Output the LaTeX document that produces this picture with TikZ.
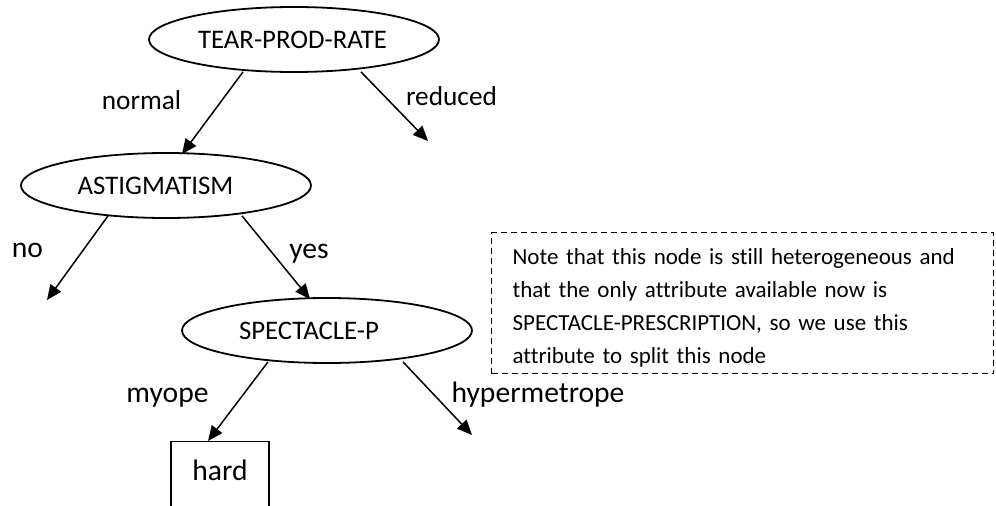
\documentclass[tikz,border=0pt]{standalone}
\usepackage{fontspec}
\setmainfont{Carlito}[RawFeature={-liga;-clig;-calt;-dlig}]
\usetikzlibrary{arrows.meta,shapes.geometric}

\tikzset{
  attr/.style={draw, ellipse, line width=1.8pt, minimum width=290pt,
    minimum height=65pt, inner sep=0pt},
  branch/.style={line width=1.5pt, -{Triangle[length=15pt,width=13pt]}},
  lbl/.style={anchor=base, inner sep=0pt, font=\fontsize{29.6}{34}\selectfont},
  smalllbl/.style={anchor=base, inner sep=0pt, font=\fontsize{27.3}{31}\selectfont},
  leafbox/.style={draw, line width=1.2pt, anchor=north, minimum width=98pt,
    inner xsep=0pt, inner ysep=17pt, text height=22pt, text depth=60pt,
    font=\fontsize{29.6}{34}\selectfont},
  notebox/.style={draw, dashed, dash pattern=on 6pt off 4pt, line width=1.2pt,
    anchor=north west, text width=460pt, inner xsep=21pt, inner ysep=0pt,
    align=left, font=\fontsize{23}{33}\selectfont}
}

\begin{document}
\begin{tikzpicture}[x=1pt,y=-1pt,every label/.style={font=\fontsize{26.8}{31}\selectfont, inner sep=0pt}]
    \clip (0,0) rectangle (996,506);

    % tree nodes
    \node[attr, label={[xshift=-1.5pt]center:TEAR-PROD-RATE}] (tear) at (294,39.5) {};
    \node[attr, label={[xshift=-10.5pt]center:ASTIGMATISM}] (astig) at (166,185.5) {};
    \node[attr, label={[xshift=-18pt]center:SPECTACLE-P}] (spec) at (327,330.5) {};
    \node[leafbox] (hard) at (220,441) {hard};

    % free ends of open branches
    \coordinate (reducedend) at (428,141);
    \coordinate (noend) at (47,300);
    \coordinate (hyperend) at (472,435);

    % branches
    \draw[branch] ([xshift=-51pt,yshift=1pt]tear.south) -- ([xshift=16pt,yshift=-2pt]astig.north);
    \draw[branch] ([xshift=67pt,yshift=1pt]tear.south) -- (reducedend);
    \draw[branch] ([xshift=-58pt,yshift=3pt]astig.south) -- (noend);
    \draw[branch] ([xshift=76pt,yshift=3pt]astig.south) -- ([xshift=-17pt,yshift=-2pt]spec.north);
    \draw[branch] ([xshift=-59pt,yshift=2pt]spec.south) -- ([xshift=-12pt]hard.north);
    \draw[branch] ([xshift=76pt,yshift=2pt]spec.south) -- (hyperend);

    % branch labels
    \node[smalllbl] (normal) at (141.5,109) {normal};
    \node[smalllbl] (reduced) at (451.5,105) {reduced};
    \node[lbl] (no) at (27.5,257) {no};
    \node[lbl] (yes) at (309,258) {yes};
    \node[lbl] (myope) at (167.5,402) {myope};
    \node[lbl] (hyper) at (538,402) {hypermetrope};

    % comment box
    \node[notebox] (note) at (491,232) {\rule{0pt}{32pt}Note that this node is still heterogeneous and\\
      that the only attribute available now is\\
      SPECTACLE-PRESCRIPTION, so we use this\\
      attribute to split this node\rule[-10pt]{0pt}{10pt}};
\end{tikzpicture}
\end{document}
